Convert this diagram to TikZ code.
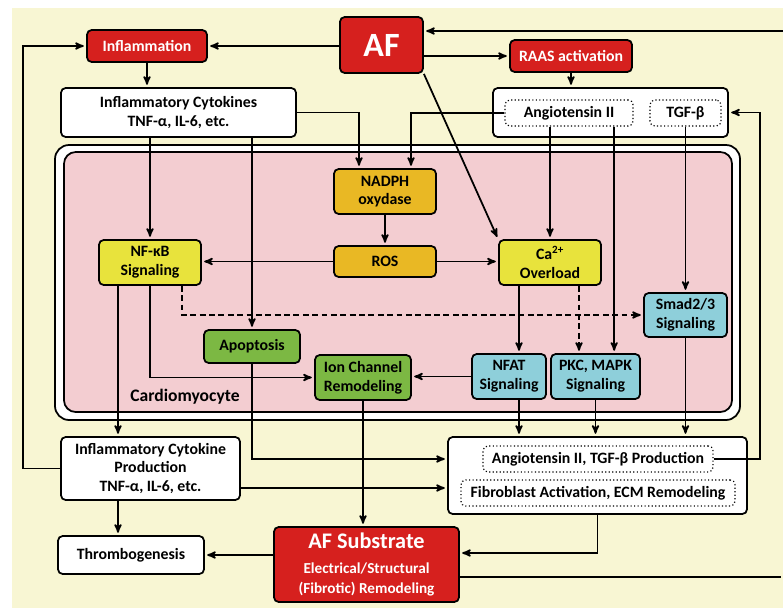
\documentclass[tikz,border=0pt]{standalone}
\usepackage{fontspec}
\setmainfont{Carlito}
\usetikzlibrary{arrows}
\definecolor{bgyellow}{HTML}{F8F6D3}
\definecolor{afred}{HTML}{D6201E}
\definecolor{roxorange}{HTML}{E9B824}
\definecolor{sigyellow}{HTML}{E8E33C}
\definecolor{cellgreen}{HTML}{7CB843}
\definecolor{sigblue}{HTML}{8ECFDA}
\definecolor{cellpink}{HTML}{F3CDD1}

\begin{document}
\begin{tikzpicture}[x=0.03cm,y=-0.03cm,->,>=stealth',shorten >=2pt,
		line width=1.5pt,font=\bfseries\fontsize{13.5}{16}\selectfont]
		\tikzstyle{box}=[draw=black,rounded corners=4pt,align=center,inner sep=1pt]
		\tikzstyle{redbox}=[box,fill=afred,text=white]
		\tikzstyle{whitebox}=[box,fill=white]
		\tikzstyle{dotbox}=[box,dotted,line width=1pt]
		\tikzstyle{orangebox}=[box,fill=roxorange]
		\tikzstyle{yellowbox}=[box,fill=sigyellow]
		\tikzstyle{greenbox}=[box,fill=cellgreen]
		\tikzstyle{bluebox}=[box,fill=sigblue]
		\tikzstyle{dashline}=[dash pattern=on 5pt off 3pt]
		
		\useasboundingbox (0,0) rectangle (783,608);
		\fill[-,bgyellow] (12,8) rectangle (783,608);
		
		% cell membrane
		\draw[-,fill=white,rounded corners=12pt] (55,145) rectangle (740,420);
		\draw[-,fill=cellpink,rounded corners=10pt] (64,152) rectangle (732,412);
		\node (cardio) at (185,397) {\fontsize{15}{18}\selectfont Cardiomyocyte};
		
		% top row
		\node[redbox,minimum width=2.49cm,minimum height=1.68cm,
			font=\bfseries\fontsize{29}{32}\selectfont] (af) at (381.5,45) {AF};
		\node[redbox,minimum width=3.6cm,minimum height=0.96cm] (infl) at (147,46) {Inflammation};
		\node[redbox,minimum width=3.66cm,minimum height=0.96cm] (raas) at (571,56) {RAAS activation};
		\node[whitebox,minimum width=7.05cm,minimum height=1.47cm] (cyto) at (178.5,112.5)
			{Inflammatory Cytokines\\TNF-α, IL-6, etc.};
		\node[whitebox,minimum width=7.05cm,minimum height=1.47cm] (angbox) at (610.5,112.5) {};
		\node[dotbox,minimum width=3.84cm,minimum height=0.78cm] (ang) at (569,113) {Angiotensin II};
		\node[dotbox,minimum width=2.13cm,minimum height=0.78cm] (tgf) at (685.5,113) {TGF-β};
		
		% inside the cell
		\node[orangebox,minimum width=3.06cm,minimum height=1.35cm] (nadph) at (385,191.5) {NADPH\\oxydase};
		\node[orangebox,minimum width=3.06cm,minimum height=0.93cm] (ros) at (385,261.5) {ROS};
		\node[yellowbox,minimum width=3.06cm,minimum height=1.35cm] (nfkb) at (150,262.5) {NF-κB\\Signaling};
		\node[yellowbox,minimum width=3.06cm,minimum height=1.35cm] (ca) at (550,262.5) {Ca\textsuperscript{2+}\\Overload};
		\node[bluebox,minimum width=2.49cm,minimum height=1.32cm] (smad) at (685.5,315) {Smad2/3\\Signaling};
		\node[greenbox,minimum width=2.88cm,minimum height=0.99cm] (apo) at (252,346.5) {Apoptosis};
		\node[greenbox,minimum width=2.88cm,minimum height=1.35cm] (ion) at (363,377.5) {Ion Channel\\Remodeling};
		\node[bluebox,minimum width=2.22cm,minimum height=1.35cm] (nfat) at (509,376.5) {NFAT\\Signaling};
		\node[bluebox,minimum width=2.67cm,minimum height=1.35cm] (pkc) at (595.5,376.5) {PKC, MAPK\\Signaling};
		
		% bottom row
		\node[whitebox,minimum width=5.37cm,minimum height=1.89cm] (prod) at (150.5,468.5)
			{Inflammatory Cytokine\\Production\\TNF-α, IL-6, etc.};
		\node[whitebox,minimum width=4.38cm,minimum height=1.14cm] (thr) at (131,555) {Thrombogenesis};
		\node[redbox,minimum width=5.55cm,minimum height=2.25cm] (sub) at (366.5,564.5)
			{{\fontsize{19}{21}\selectfont AF Substrate}\\[5pt]
			 {\fontsize{13}{15}\selectfont Electrical/Structural}\\[1pt]
			 {\fontsize{13}{15}\selectfont (Fibrotic) Remodeling}};
		\node[whitebox,minimum width=8.97cm,minimum height=2.31cm] (fibbox) at (597.5,475.5) {};
		\node[dotbox,minimum width=6.9cm,minimum height=0.78cm] (angprod) at (598,459)
			{Angiotensin II, TGF-β Production};
		\node[dotbox,minimum width=8.22cm,minimum height=0.78cm] (fib) at (598,493)
			{Fibroblast Activation, ECM Remodeling};
		
		\coordinate (lx) at (23,0);
		\coordinate (rx) at (760,0);
		\coordinate (rtop) at (783,31);
		\coordinate (rbot) at (783,577);
		\coordinate (nk) at ([xshift=-0.96cm]nfkb.south);
		\coordinate (nd) at ([xshift=0.96cm]nfkb.south);
		\coordinate (nf) at ([xshift=0.3cm]nfat.north);
		\coordinate (pk) at ([xshift=0.56cm]pkc.north);
		\coordinate (cd) at ([xshift=0.87cm]ca.south);
		\coordinate (pe) at ([yshift=-0.585cm]prod.east);
		\coordinate (se) at ([yshift=0.345cm]sub.east);
		
		% AF and feedback loops
		\draw (af.west |- infl.east) -- (infl.east);
		\draw (af.east |- raas.west) -- (raas.west);
		\draw (rtop) -- (rtop -| af.east);
		\draw[-] (sub.east |- rbot) -- (rbot);
		\draw (af.south east) -- (ca.north west);
		\draw (prod.west) -| (lx |- infl.west) -- (infl.west);
		\draw (angprod.east) -| (rx |- angbox.east) -- (angbox.east);
		
		% upstream
		\draw (infl.south) -- (infl.south |- cyto.north);
		\draw (raas.south) -- (raas.south |- angbox.north);
		\draw (cyto.east) -| ([xshift=-0.78cm]nadph.north);
		\draw (ang.west) -| ([xshift=0.78cm]nadph.north);
		\draw (nfkb.north |- cyto.south) -- (nfkb.north);
		\draw (apo.north |- cyto.south) -- (apo.north);
		\draw (ca.north |- ang.south) -- (ca.north);
		\draw (ang.south -| pk) -- (pk);
		\draw (tgf.south) -- (smad.north);
		
		% cardiomyocyte signaling
		\draw (nadph) -- (ros);
		\draw (ros.west) -- (ros.west -| nfkb.east);
		\draw (ros.east) -- (ros.east -| ca.west);
		\draw[dashline] (nd) |- (smad.west);
		\draw (nfkb.south) |- (ion.west);
		\draw (ca.south -| nf) -- (nf);
		\draw[dashline] (cd) -- (cd |- pkc.north);
		\draw (nfat.west) -- (nfat.west -| ion.east);
		
		% downstream
		\draw (nk) -- (nk |- prod.north);
		\draw (nk |- prod.south) -- (nk |- thr.north);
		\draw (apo.south) |- (fibbox.west |- angprod);
		\draw (pe) -- (pe -| fibbox.west);
		\draw (ion.south) -- (ion.south |- sub.north);
		\draw (nfat.south -| nf) -- (nf |- fibbox.north);
		\draw (pkc.south) -- (pkc.south |- fibbox.north);
		\draw (smad.south) -- (smad.south |- fibbox.north);
		\draw (fibbox.south) |- (se);
		\draw (sub.west |- thr.east) -- (thr.east);
\end{tikzpicture}
\end{document}
